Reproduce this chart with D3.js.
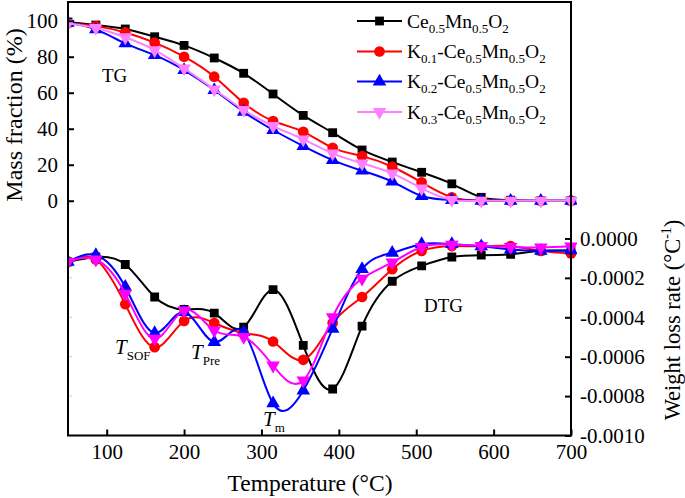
<!DOCTYPE html>
<html><head><meta charset="utf-8">
<script src="https://cdn.jsdelivr.net/npm/d3@7/dist/d3.min.js"></script>
<style>body{margin:0;background:#fff;} text{font-family:"Liberation Serif","Times New Roman",serif;}</style>
</head><body><svg id="c" width="685" height="498"></svg>
<script>
const temps = [50, 86, 124, 162, 200, 239, 277, 315, 354, 392, 430, 469, 507, 546, 584, 622, 661, 700];

const tgCe   = [99.3, 97.6, 95.4, 91.1, 86.3, 79.3, 70.8, 59.3, 47.4, 37.8, 28.2, 21.5, 15.8, 9.4, 1.9, 0.3, 0, 0];
const tgK01  = [98.6, 97.0, 93.5, 87.8, 80.0, 68.9, 54.4, 44.3, 38.3, 29.4, 24.8, 18.9, 10.2, 1.9, 0, 0, 0, 0];
const tgK02  = [98.9, 95.2, 87.4, 80.9, 72.6, 61.5, 49.4, 39.3, 30.4, 22.6, 16.7, 10.6, 2.6, 0.4, 0, 0, 0, 0];
const tgK03  = [98.5, 96.0, 90.8, 83.7, 73.5, 61.9, 50.4, 41.5, 34.1, 26.3, 20.8, 15.2, 6.9, 0.5, 0, 0, 0, 0];

const dtgCe  = [-0.000119, -0.000094, -0.000132, -0.000297, -0.000360, -0.000379, -0.000450, -0.000260, -0.000543, -0.000764, -0.000445, -0.000217, -0.000139, -0.000094, -0.000085, -0.000080, -0.000063, -0.000063];
const dtgK01 = [-0.000119, -0.000107, -0.000334, -0.000552, -0.000419, -0.000429, -0.000480, -0.000523, -0.000616, -0.000429, -0.000297, -0.000156, -0.000063, -0.000038, -0.000040, -0.000039, -0.000063, -0.000076];
const dtgK02 = [-0.000119, -0.000085, -0.000246, -0.000480, -0.000373, -0.000526, -0.000475, -0.000837, -0.000772, -0.000458, -0.000156, -0.000073, -0.000029, -0.000029, -0.000040, -0.000056, -0.000063, -0.000060];
const dtgK03 = [-0.000119, -0.000107, -0.000280, -0.000509, -0.000365, -0.000467, -0.000500, -0.000645, -0.000721, -0.000399, -0.000204, -0.000122, -0.000043, -0.000031, -0.000038, -0.000043, -0.000046, -0.000040];

const xTicks = [100, 200, 300, 400, 500, 600, 700];
const leftTicks = [0, 20, 40, 60, 80, 100];
const rightTicks = [0, -0.0002, -0.0004, -0.0006, -0.0008, -0.0010];

const seriesNames = [
  [["Ce",0],["0.5",1],["Mn",0],["0.5",1],["O",0],["2",1]],
  [["K",0],["0.1",1],["-Ce",0],["0.5",1],["Mn",0],["0.5",1],["O",0],["2",1]],
  [["K",0],["0.2",1],["-Ce",0],["0.5",1],["Mn",0],["0.5",1],["O",0],["2",1]],
  [["K",0],["0.3",1],["-Ce",0],["0.5",1],["Mn",0],["0.5",1],["O",0],["2",1]]
];
const tgColors = ["#000000", "#ff0000", "#0000ff", "#ff80ff"];
const dtgColors = ["#000000", "#ff0000", "#0000ff", "#ff00ff"];
const symbols = ["square", "circle", "triangle", "triangleDown"];

const svg = d3.select("#c");
const L = 68, R = 571, T = 2, B = 435.5;
const x = d3.scaleLinear().domain([50, 700]).range([L, R]);
const yL = d3.scaleLinear().domain([-130.4, 110.4]).range([B, T]);
const yR = d3.scaleLinear().domain([-0.0010, 0.0012]).range([B, T]);

svg.append("defs").append("clipPath").attr("id","pc")
  .append("rect").attr("x", L).attr("y", T-6).attr("width", R-L+6).attr("height", B-T+6);

function symPath(kind){
  if(kind==="square") return d3.symbol(d3.symbolSquare, 78)();
  if(kind==="circle") return d3.symbol(d3.symbolCircle, 90)();
  return d3.symbol(d3.symbolTriangle, 80)();
}
function drawMarker(g, kind, cx, cy, color){
  g.append("path").attr("d", symPath(kind))
   .attr("transform", `translate(${cx},${cy})` + (kind==="triangleDown" ? " rotate(180)" : ""))
   .attr("fill", color);
}

const plot = svg.append("g").attr("clip-path","url(#pc)");
function drawSeries(vals, yScale, color, kind){
  const line = d3.line().x((d,i)=>x(temps[i])).y(d=>yScale(d)).curve(d3.curveNatural);
  plot.append("path").attr("d", line(vals)).attr("fill","none").attr("stroke",color).attr("stroke-width",2);
  vals.forEach((v,i)=>drawMarker(plot, kind, x(temps[i]), yScale(v), color));
}
const tgs = [tgCe, tgK01, tgK02, tgK03];
const dtgs = [dtgCe, dtgK01, dtgK02, dtgK03];
for(let i=0;i<4;i++) drawSeries(tgs[i], yL, tgColors[i], symbols[i]);
for(let i=0;i<4;i++) drawSeries(dtgs[i], yR, dtgColors[i], symbols[i]);

const FS = 21;
function styleAxis(g){
  g.select(".domain").remove();
  g.selectAll("line").attr("stroke","#000").attr("stroke-width",2);
  g.selectAll("text").attr("font-size",FS).attr("fill","#000").attr("font-family","Liberation Serif");
}
svg.append("g").attr("transform",`translate(0,${B})`)
  .call(d3.axisBottom(x).tickValues(xTicks).tickSizeInner(-6).tickSizeOuter(0).tickPadding(9))
  .call(styleAxis);
svg.append("g").attr("transform",`translate(${L},0)`)
  .call(d3.axisLeft(yL).tickValues(leftTicks).tickSizeInner(-6).tickSizeOuter(0).tickPadding(10))
  .call(styleAxis);
svg.append("g").attr("transform",`translate(${R},0)`)
  .call(d3.axisRight(yR).tickValues(rightTicks).tickSizeInner(-6).tickSizeOuter(0).tickPadding(9)
        .tickFormat(d=>d3.format(".4f")(d).replace("−","-")))
  .call(styleAxis);
rightTicks.slice(1,5).forEach(v=>{
  svg.append("line").attr("x1",L).attr("x2",L+4).attr("y1",yR(v)).attr("y2",yR(v)).attr("stroke","#ccc").attr("stroke-width",1);
});
svg.append("rect").attr("x",L).attr("y",T).attr("width",R-L).attr("height",B-T)
  .attr("fill","none").attr("stroke","#000").attr("stroke-width",2);

// axis titles
svg.append("text").attr("x",310).attr("y",491).attr("text-anchor","middle").attr("font-size",23.5).text("Temperature (°C)");
svg.append("text").attr("transform","translate(22,115) rotate(-90)").attr("text-anchor","middle").attr("font-size",24).text("Mass fraction (%)");
const rt = svg.append("text").attr("transform","translate(680,320) rotate(-90)").attr("text-anchor","middle").attr("font-size",22.5);
rt.append("tspan").text("Weight loss rate (°C");
rt.append("tspan").attr("dy",-9).attr("font-size",14).text("-1");
rt.append("tspan").attr("dy",9).text(")");

// labels
svg.append("text").attr("x",102).attr("y",82).attr("font-size",19).text("TG");
svg.append("text").attr("x",424).attr("y",312).attr("font-size",19).text("DTG");
function tLabel(xp, yp, sub){
  const t = svg.append("text").attr("x",xp).attr("y",yp).attr("font-size",21);
  t.append("tspan").attr("font-style","italic").text("T");
  t.append("tspan").attr("dy",6).attr("font-size",13).text(sub);
}
tLabel(115, 354, "SOF");
tLabel(191, 359, "Pre");
tLabel(263, 426, "m");

// legend
const lg = svg.append("g");
const rowsY = [21, 51.5, 81.5, 112];
for(let i=0;i<4;i++){
  const yy = rowsY[i];
  lg.append("line").attr("x1",357).attr("x2",402).attr("y1",yy).attr("y2",yy).attr("stroke",tgColors[i]).attr("stroke-width",2);
  drawMarker(lg, symbols[i], 379.5, yy, tgColors[i]);
  const t = lg.append("text").attr("x",407).attr("y",yy+6.5).attr("font-size",19.5);
  let cur = 0;
  seriesNames[i].forEach(([s,sub])=>{
    const dy = (sub ? 5 : 0) - cur; cur = sub ? 5 : 0;
    t.append("tspan").attr("dy",dy).attr("font-size", sub?13:19.5).text(s);
  });
}
</script></body></html>
